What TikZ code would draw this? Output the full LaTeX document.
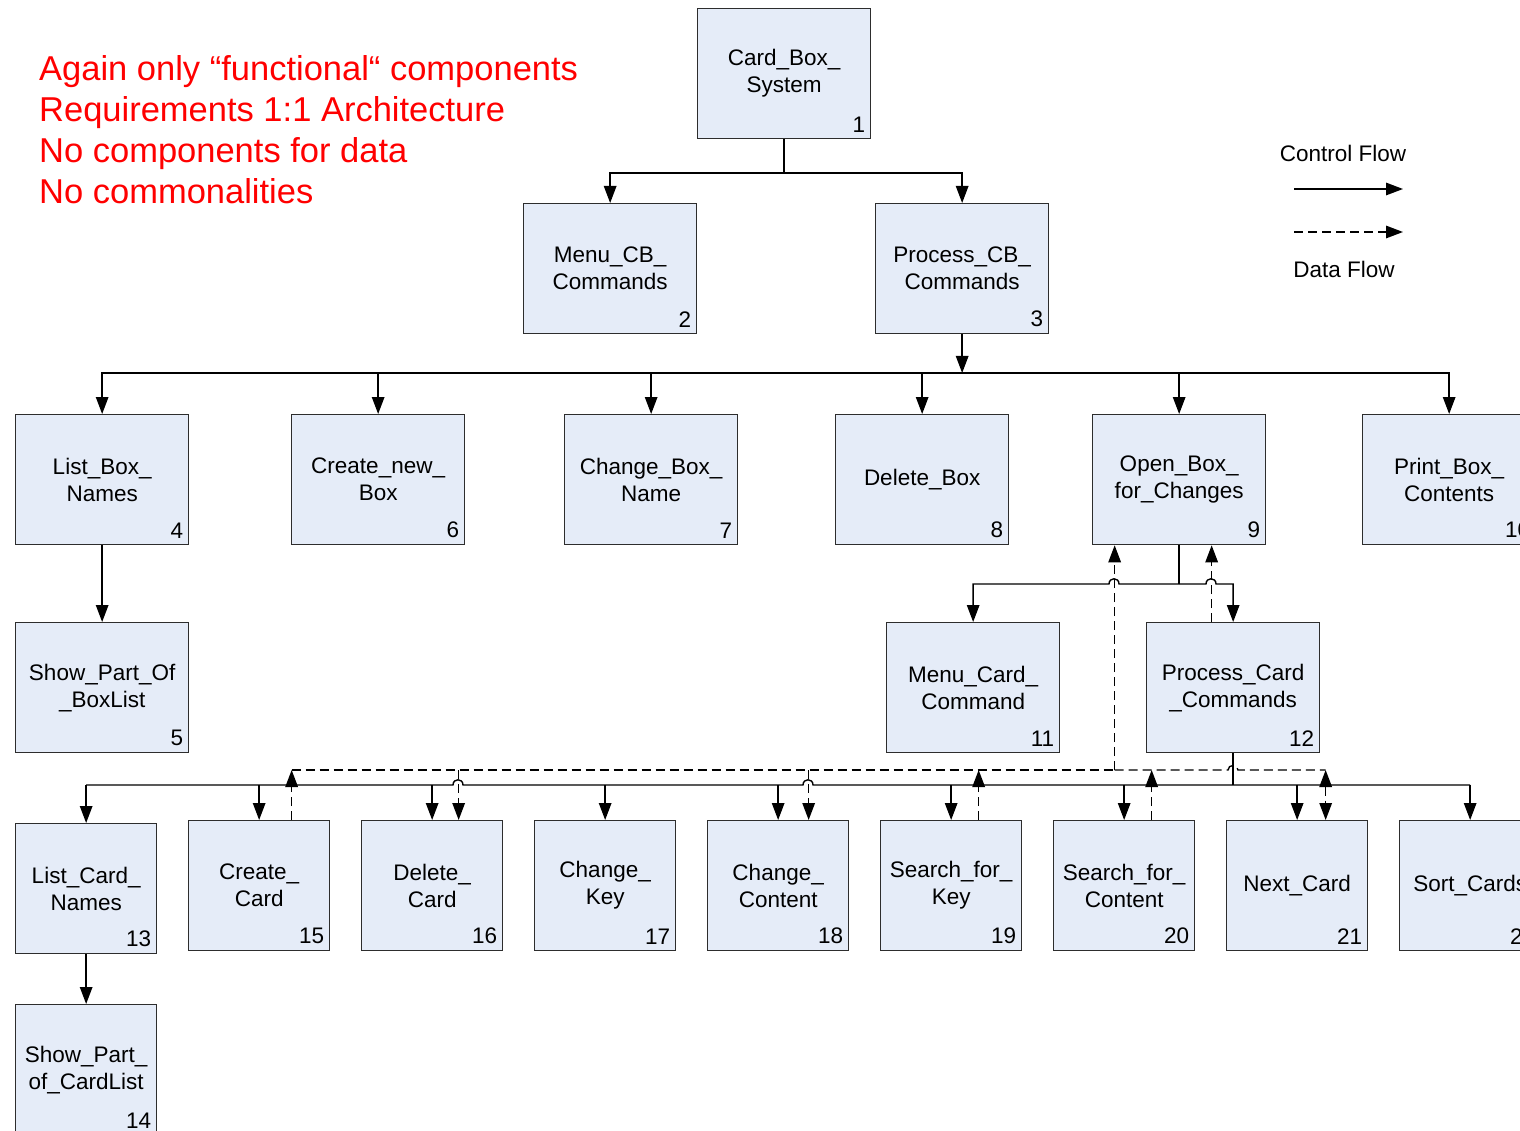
\documentclass[tikz,border=0pt]{standalone}
\usepackage{fontspec}
\setmainfont{Liberation Sans}
\usetikzlibrary{arrows.meta}
\definecolor{boxfill}{RGB}{229,236,248}
\definecolor{boxline}{RGB}{45,45,45}
\definecolor{redtxt}{RGB}{255,0,0}
\begin{document}
\begin{tikzpicture}[x=1pt,y=-1pt,
 cbox/.style={draw=boxline, fill=boxfill, line width=1.3pt, align=center, inner sep=0pt,
   font=\fontsize{22.5}{27}\selectfont, minimum height=130pt, anchor=north west},
 wide/.style={minimum width=173pt},
 narrow/.style={minimum width=141pt},
 num/.style={inner sep=0pt, anchor=south east, font=\fontsize{22.5}{27}\selectfont},
 ctrl/.style={line width=1.4pt, draw=black},
 flow/.style={ctrl, -{Triangle[length=17pt,width=12.5pt]}},
 ddash/.style={ctrl, dash pattern=on 9pt off 5pt},
 dflow/.style={ddash, -{Triangle[length=17pt,width=12.5pt]}},
 dboth/.style={ddash, {Triangle[length=17pt,width=12.5pt]}-{Triangle[length=17pt,width=12.5pt]}},
 redline/.style={text=redtxt, anchor=base west, inner sep=0pt, font=\fontsize{34.5}{41}\selectfont},
 legend/.style={inner sep=0pt, font=\fontsize{22.5}{27}\selectfont}
]
\useasboundingbox (0,0) rectangle (1520,1131);
\clip (0,0) rectangle (1520,1131);
\fill[white] (0,0) rectangle (1520,1131);

% red notes
\node[redline] (r1) at (39,81) {Again only “functional“ components};
\node[redline] (r2) at (39,122) {Requirements 1:1 Architecture};
\node[redline] (r3) at (39,163) {No components for data};
\node[redline] (r4) at (39,204) {No commonalities};

% legend
\node[legend] (lgc) at (1343,153) {Control Flow};
\node[legend] (lgd) at (1344,269) {Data Flow};
\coordinate (lc1) at (1294,189); \coordinate (lc2) at (1403,189);
\coordinate (ld1) at (1294,232); \coordinate (ld2) at (1403,232);
\draw[flow] (lc1) -- (lc2);
\draw[dflow] (ld1) -- (ld2);

% boxes
\node[cbox,wide] (b1) at (697,8) {Card\_Box\_\\System};
\node[cbox,wide] (b2) at (523,203) {Menu\_CB\_\\Commands};
\node[cbox,wide] (b3) at (875,203) {Process\_CB\_\\Commands};
\node[cbox,wide] (b4) at (15,414) {List\_Box\_\\Names};
\node[cbox,wide] (b6) at (291,414) {Create\_new\_\\Box};
\node[cbox,wide] (b7) at (564,414) {Change\_Box\_\\Name};
\node[cbox,wide] (b8) at (835,414) {Delete\_Box};
\node[cbox,wide] (b9) at (1092,414) {Open\_Box\_\\for\_Changes};
\node[cbox,wide] (b10) at (1362,414) {Print\_Box\_\\Contents};
\node[cbox,wide] (b5) at (15,622) {Show\_Part\_Of\\\_BoxList};
\node[cbox,wide] (b11) at (886,622) {Menu\_Card\_\\Command};
\node[cbox,wide] (b12) at (1146,622) {Process\_Card\\\_Commands};
\node[cbox,narrow] (b13) at (15,823) {List\_Card\_\\Names};
\node[cbox,narrow] (b15) at (188,820) {Create\_\\Card};
\node[cbox,narrow] (b16) at (361,820) {Delete\_\\Card};
\node[cbox,narrow] (b17) at (534,820) {Change\_\\Key};
\node[cbox,narrow] (b18) at (707,820) {Change\_\\Content};
\node[cbox,narrow] (b19) at (880,820) {Search\_for\_\\Key};
\node[cbox,narrow] (b20) at (1053,820) {Search\_for\_\\Content};
\node[cbox,narrow] (b21) at (1226,820) {Next\_Card};
\node[cbox,narrow] (b22) at (1399,820) {Sort\_Cards};
\node[cbox,narrow] (b14) at (15,1004) {Show\_Part\_\\of\_CardList};

% numbers
\foreach \b/\n in {b1/1,b2/2,b3/3,b4/4,b5/5,b6/6,b7/7,b8/8,b9/9,b10/10,b11/11,b12/12,
  b13/13,b14/14,b15/15,b16/16,b17/17,b18/18,b19/19,b20/20,b21/21,b22/22}
  \node[num] (\b n) at ([xshift=-6pt,yshift=7pt]\b.south east) {\n};

% control flow: level 1
\coordinate (t1) at (b1.south |- 0,173);
\draw[ctrl] (b1.south) -- (t1);
\draw[flow] (t1) -| (b2.north);
\draw[flow] (t1) -| (b3.north);

% level 2
\coordinate (t3) at (b3.south |- 0,373);
\draw[flow] (b3.south) -- (t3);
\foreach \b in {b4,b6,b7,b8,b9,b10}
  \draw[flow] (t3) -| (\b.north);
\draw[flow] (b4.south) -- (b5.north);

% level 3 under Open_Box
\coordinate (t9) at (b9.south |- 0,584);
\draw[ctrl] (b9.south) -- (t9);
\draw[flow] (t9) -- (1119,584) .. controls (1119,577) and (1109,577) .. (1109,584) -| (b11.north);
\draw[flow] (t9) -- (1206,584) .. controls (1206,577) and (1216,577) .. (1216,584) -| (b12.north);

% level 4 bus
\coordinate (t12) at (b12.south |- 0,785);
\draw[ctrl] (b12.south) -- (t12);
\coordinate (busL) at (b13.north |- t12);
\coordinate (busR) at (b22.north |- t12);
\coordinate (h1a) at (453,785); \coordinate (h1b) at (463,785);
\coordinate (h2a) at (803,785); \coordinate (h2b) at (813,785);
\draw[ctrl] (busL) -- (h1a) .. controls (453,778) and (463,778) .. (h1b) -- (h2a)
   .. controls (803,778) and (813,778) .. (h2b) -- (busR);
\foreach \b in {b13,b15,b16,b17,b18,b19,b20,b21,b22}
  \draw[flow] (\b.north |- t12) -- (\b.north);
\draw[flow] (b13.south) -- (b14.north);

% data flow
\coordinate (p15) at ([xshift=32.5pt]b15.north);
\coordinate (p16) at ([xshift=26.5pt]b16.north);
\coordinate (p18) at ([xshift=30.5pt]b18.north);
\coordinate (p19) at ([xshift=27.5pt]b19.north);
\coordinate (p20) at ([xshift=27.5pt]b20.north);
\coordinate (p21) at ([xshift=28.5pt]b21.north);
\coordinate (p12) at ([xshift=-21.5pt]b12.north);
\coordinate (p9a) at ([xshift=-64.5pt]b9.south);
\coordinate (p9b) at ([xshift=32.5pt]b9.south);
\coordinate (dL) at (p15 |- 0,770);
\coordinate (dM) at (p9a |- 0,770);
\coordinate (dR) at (p21 |- 0,770);
\coordinate (dja) at (1228,770); \coordinate (djb) at (1238,770);

\draw[ddash] (dL) -- (dM);
\draw[dflow] (dM) -- (p9a);
\draw[ddash] (dM) -- (dja) .. controls (1228,764) and (1238,764) .. (djb) -- (dR);
\draw[dflow] (p15) -- (dL);
\draw[dflow] (p16 |- dL) -- (p16);
\draw[dflow] (p18 |- dL) -- (p18);
\draw[dflow] (p19) -- (p19 |- dL);
\draw[dflow] (p20) -- (p20 |- dL);
\draw[dboth] (p21 |- dL) -- (p21);
\draw[dflow] (p12) -- (p9b);
\end{tikzpicture}
\end{document}
